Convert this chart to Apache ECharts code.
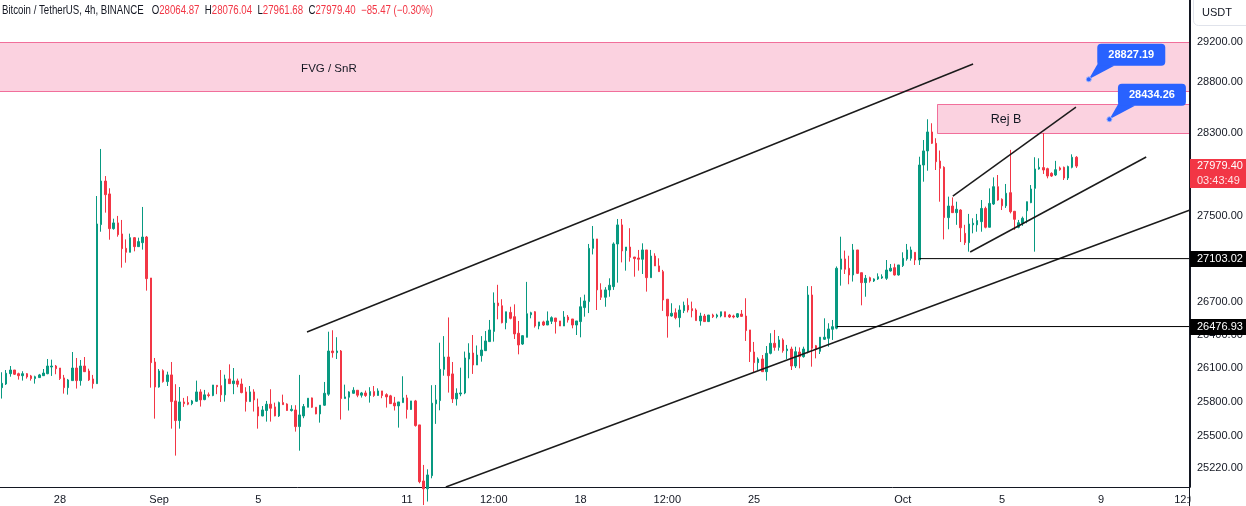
<!DOCTYPE html>
<html><head><meta charset="utf-8">
<script src="https://cdn.jsdelivr.net/npm/echarts@6.0.0/dist/echarts.min.js"></script>
<style>html,body{margin:0;padding:0;background:#fff;}#c{width:1246px;height:506px;}</style>
</head><body><div id="c"></div>
<script>
// ---- data ----
const startTime = Date.UTC(2023, 7, 25, 16); // first 4h slot shown
const slotCount = 288;                       // 4h slots on the time axis (incl. future space)
const opens = [
25926,25959,26051,26084,26051,26033,26051,26031,26007,26016,
26033,26051,26111,26120,26102,26013,25926,25989,26102,25989,
26120,26075,26004,25962,27422,27836,27713,27384,27438,27334,
27199,27162,27299,27215,27252,27305,26923,26156,25932,26078,
25980,26040,25808,25634,25799,25793,25784,25805,25888,25820,
25862,25856,25947,25944,25862,26004,25962,25986,25959,25888,
25802,25888,25755,25675,25723,25779,25755,25675,25793,25781,
25723,25728,25581,25675,25752,25835,25752,25693,25770,25868,
26255,26240,26255,25829,25841,25876,25903,25859,25879,25856,
25891,25856,25897,25864,25853,25790,25764,25793,25835,25732,
25808,25596,25107,25040,25153,25782,25811,26090,26201,26049,
25826,25870,25879,26183,26237,26129,26213,26258,26340,26433,
26692,26667,26512,26606,26567,26416,26318,26379,26585,26612,
26482,26519,26491,26525,26555,26528,26482,26564,26546,26491,
26522,26650,26705,27199,27287,26813,26745,26813,26843,27240,
27419,27178,27211,27118,27109,27097,27184,26926,27127,27035,
26982,26727,26573,26603,26558,26622,26671,26640,26628,26528,
26573,26522,26582,26567,26573,26612,26582,26573,26564,26591,
26573,26446,26246,26150,26183,26069,26234,26325,26288,26355,
26258,26273,26120,26246,26204,26249,26766,26303,26252,26361,
26370,26452,26462,27004,27100,27013,26951,27184,26972,26880,
26926,26895,26914,26923,26920,26988,27019,26951,27038,27100,
27106,27162,27090,27990,28126,28310,28200,28028,27968,27488,
27598,27535,27560,27340,27252,27420,27420,27450,27575,27397,
27617,27782,27662,27600,27725,27548,27397,27435,27553,27630,
27766,27952,27965,27955,27910,27894,27962,27968,27865,27968,
28064.87];
const highs = [
26064,26084,26120,26084,26060,26073,26057,26040,26033,26049,
26093,26183,26177,26129,26102,26040,26004,26246,26192,26174,
26201,26096,26040,27693,28145,27884,27767,27478,27504,27466,
27283,27337,27305,27299,27589,27315,26923,26192,26093,26090,
26069,26156,25957,25932,25835,25850,25817,25989,25912,25906,
25883,25950,25947,26084,26042,26135,26102,26007,26007,25930,
25941,25912,25829,25763,25808,25912,25793,25802,25864,25787,
25770,25770,26040,25781,25832,25838,25752,25770,25977,26430,
26443,26380,26264,25953,25894,25930,25903,25888,25900,25930,
25941,25920,25897,25876,25862,25844,25799,26028,25862,25808,
25817,25596,25246,25208,25948,25950,26330,26390,26560,26156,
25920,26105,26250,26325,26400,26305,26390,26436,26537,26790,
26860,26727,26612,26658,26680,26528,26397,26887,26612,26618,
26519,26530,26615,26570,26555,26528,26618,26582,26546,26528,
26745,26769,27240,27409,27287,26874,26838,26920,27255,27475,
27475,27211,27388,27118,27184,27246,27184,27184,27153,27106,
26998,26727,26690,26643,26671,26705,26736,26705,26643,26603,
26592,26582,26594,26594,26612,26612,26592,26585,26600,26628,
26736,26446,26337,26198,26219,26300,26416,26446,26391,26370,
26310,26294,26294,26288,26294,26848,26848,26310,26380,26552,
26507,26537,27030,27308,27178,27130,27240,27184,26972,26951,
26935,26920,26966,26957,27090,27053,27056,27044,27162,27240,
27215,27162,28070,28232,28434,28395,28249,28130,27978,27687,
27680,27639,27567,27420,27523,27482,27523,27655,27592,27766,
27871,27894,27671,27808,28136,27551,27466,27498,27640,27798,
28065,28055,28300,27964,27920,28030,27975,27975,27984,28093,
28076.04];
const lows = [
25829,25950,26024,26040,25998,25989,26007,25989,25962,26013,
26031,26046,26031,26046,25995,25873,25864,25989,25918,25944,
26066,25986,25918,25962,27355,27535,27280,27374,27308,27019,
27065,27162,27171,27215,27187,26806,25926,25651,25926,25971,
25941,25563,25327,25563,25755,25770,25770,25799,25758,25814,
25840,25850,25868,25799,25802,25962,25868,25930,25876,25714,
25802,25714,25563,25672,25625,25625,25672,25666,25775,25720,
25714,25537,25370,25655,25752,25746,25690,25616,25764,25853,
26195,26183,25643,25829,25723,25873,25841,25838,25844,25793,
25844,25856,25832,25749,25781,25723,25572,25793,25652,25729,
25581,25087,24900,24930,25130,25605,25725,26033,25882,25790,
25767,25850,25868,26010,26049,26129,26159,26255,26340,26340,
26543,26506,26452,26543,26364,26225,26310,26379,26552,26467,
26452,26482,26491,26500,26413,26482,26482,26513,26461,26400,
26379,26567,26600,27142,26628,26720,26658,26750,26813,26880,
27068,26991,27075,26935,26991,26960,26797,26926,27035,26982,
26620,26376,26567,26543,26470,26600,26606,26561,26531,26485,
26519,26519,26555,26552,26561,26564,26555,26552,26555,26564,
26346,26156,26060,26084,26069,25989,26225,26258,26258,26240,
26183,26084,26102,26099,26195,26234,26114,26189,26228,26355,
26294,26355,26452,26852,26960,26865,26890,26960,26671,26750,
26880,26886,26905,26914,26905,26982,26945,26945,27025,27084,
27084,27044,27044,27830,27935,28193,27942,27639,27283,27378,
27532,27420,27258,27230,27168,27340,27355,27355,27387,27397,
27608,27648,27560,27580,27528,27372,27387,27410,27435,27625,
27168,27945,27904,27862,27875,27884,27935,27846,27846,27958,
27961.68];
const closes = [
25965,26055,26084,26046,26033,26051,26022,26007,26024,26040,
26057,26120,26120,26096,26007,25926,25995,26102,25989,26120,
26069,25995,25962,27428,27836,27706,27384,27438,27327,27196,
27162,27299,27215,27262,27305,26917,26150,25932,26075,25980,
26040,25802,25634,25799,25784,25779,25808,25888,25817,25862,
25856,25950,25935,25862,26004,25962,25986,25956,25882,25802,
25888,25817,25675,25728,25779,25743,25675,25793,25775,25723,
25734,25581,25684,25758,25832,25752,25693,25770,25876,26255,
26240,26255,25829,25844,25888,25903,25859,25879,25856,25891,
25856,25897,25856,25844,25784,25764,25799,25835,25732,25808,
25590,25101,25040,25159,25788,25817,26090,26201,26033,25826,
25876,25879,26192,26237,26129,26219,26264,26346,26446,26692,
26667,26512,26612,26552,26410,26310,26394,26594,26603,26482,
26519,26491,26528,26558,26522,26482,26564,26537,26491,26528,
26658,26711,27199,27287,26813,26745,26813,26856,27240,27419,
27175,27211,27115,27103,27097,27184,26926,27127,27035,26982,
26720,26573,26598,26558,26628,26671,26628,26622,26531,26573,
26522,26582,26567,26582,26612,26564,26564,26564,26594,26570,
26440,26249,26150,26183,26069,26234,26325,26288,26355,26258,
26273,26120,26249,26204,26273,26766,26280,26271,26380,26380,
26455,26476,27013,27100,27004,26951,27184,26966,26880,26920,
26895,26914,26935,26935,26997,27013,26951,27044,27106,27184,
27184,27090,27990,28126,28310,28200,28022,27958,27488,27598,
27535,27567,27392,27252,27428,27435,27460,27575,27397,27623,
27782,27655,27600,27719,27544,27472,27440,27482,27639,27760,
27952,27968,27942,27884,27884,27945,27945,27865,27975,28064.87,
27979.40];

const xTickDates = ['08-28 00:00','09-01 00:00','09-05 00:00','09-11 00:00','09-14 12:00','09-18 00:00','09-21 12:00','09-25 00:00','10-01 00:00','10-05 00:00','10-09 00:00','10-12 12:00'];
const xTickTexts = ['28','Sep','5','11','12:00','18','12:00','25','Oct','5','9','12:00'];
const yTickValues = [29200,28800,28300,27500,26700,26400,26100,25800,25500,25220];
const yMin = 25055, yMax = 29625;

// drawings, in [slot index, price]
const trendLines = [
  [[73.8, 26427], [235.0, 28980]],
  [[107.4, 25055], [287.5, 27560]],
  [[230.1, 27693], [259.9, 28554]],
  [[234.3, 27165], [276.9, 28067]]
];
const levelPrices = [27103.02, 26476.93];
const levelStarts = [222, 202];
const zoneNames = ['FVG / SnR', 'Rej B'];
const zoneFrom = [-3, 226.3];
const zoneTop = [29200, 28584];
const zoneBottom = [28712, 28300];
const zoneLabelAt = [[79.1, 28930], [243, 28436]];
const calloutPrices = [28827.19, 28434.26];
const calloutSlots = [263, 268];
const titleText = 'Bitcoin / TetherUS, 4h, BINANCE';
const countdown = '03:43:49';

// ---- build ----
const UP = '#089981', DOWN = '#f23645', INK = '#131722';
const REG = "'Liberation Sans',Arial,sans-serif";
const pad2 = n => String(n).padStart(2, '0');
const categories = [];
for (let i = 0; i < slotCount; i++) {
  const d = new Date(startTime + i * 4 * 3600 * 1000);
  categories.push(pad2(d.getUTCMonth() + 1) + '-' + pad2(d.getUTCDate()) + ' ' + pad2(d.getUTCHours()) + ':00');
}
const tickText = {};
xTickDates.forEach((d, i) => { tickText[d] = xTickTexts[i]; });
const candleData = opens.map((o, i) => [o, closes[i], lows[i], highs[i]]);

const chart = echarts.init(document.getElementById('c'), null, {renderer: 'canvas'});
const series = [
  {
    type: 'custom', xAxisIndex: 1, yAxisIndex: 0, clip: true, silent: true, z: 1,
    encode: {x: [0, 1], y: [2, 3]},
    data: zoneNames.map((n, i) => [zoneFrom[i], slotCount + 2, zoneTop[i], zoneBottom[i]]),
    renderItem: (params, api) => {
      const a = api.coord([api.value(0), api.value(2)]);
      const b = api.coord([api.value(1), api.value(3)]);
      const x0 = Math.round(a[0]) + 0.5, y0 = Math.round(a[1]) + 0.5;
      const x1 = Math.round(b[0]) + 0.5, y1 = Math.round(b[1]) + 0.5;
      return {type: 'rect', shape: {x: x0, y: y0, width: x1 - x0, height: y1 - y0},
        style: {fill: 'rgba(233,30,99,0.2)', stroke: 'rgba(233,30,99,0.6)', lineWidth: 1}};
    }
  },
  {
    type: 'candlestick', xAxisIndex: 0, yAxisIndex: 0, z: 2, silent: true,
    data: candleData, barWidth: 2,
    itemStyle: {color: UP, color0: DOWN, borderColor: UP, borderColor0: DOWN, borderWidth: 1}
  }
];
trendLines.forEach(l => series.push({
  type: 'line', xAxisIndex: 1, yAxisIndex: 0, data: l, symbol: 'none', silent: true, z: 3,
  lineStyle: {color: '#1b1b1b', width: 1.5}
}));
levelPrices.forEach((p, i) => series.push({
  type: 'line', xAxisIndex: 1, yAxisIndex: 0, data: [[levelStarts[i], p], [slotCount, p]], symbol: 'none', silent: true, z: 3,
  lineStyle: {color: '#000', width: 1}
}));

chart.setOption({
  animation: false,
  grid: {left: 0, right: 56, top: 0, bottom: 19, containLabel: false, outerBoundsMode: 'none'},
  xAxis: [
    {type: 'category', data: categories, boundaryGap: true,
      axisLine: {show: true, onZero: false, lineStyle: {color: INK, width: 1}}, axisTick: {show: false}, splitLine: {show: false},
      axisLabel: {interval: (idx, val) => tickText[val] !== undefined, formatter: val => tickText[val] || '',
        color: INK, fontSize: 11, fontFamily: REG, margin: 7}},
    {type: 'value', min: -0.5, max: slotCount - 0.5, show: false}
  ],
  yAxis: {type: 'log', logBase: 10, min: yMin, max: yMax, position: 'right',
    axisLine: {show: true, onZero: false, lineStyle: {color: INK, width: 1}}, axisTick: {show: false}, splitLine: {show: false},
    axisLabel: {customValues: yTickValues, formatter: v => Number(v).toFixed(2), color: INK, fontSize: 11, fontFamily: REG, margin: 7}},
  series: series
});

// ---- overlays positioned through the chart's own scales ----
const X = v => chart.convertToPixel({xAxisIndex: 1}, v);
const Y = v => chart.convertToPixel({yAxisIndex: 0}, v);
const g = [];
const n = closes.length;
// header: one condensed line, fitted to the reference width
const chg = closes[n - 1] - closes[n - 2];
const pct = chg / closes[n - 2] * 100;
const fmtSigned = v => (v < 0 ? '\u2212' : '+') + Math.abs(v).toFixed(2);
const hdr = [
  ['k', titleText + '   '],
  ['k', 'O'], ['v', opens[n - 1].toFixed(2) + '  '],
  ['k', 'H'], ['v', highs[n - 1].toFixed(2) + '  '],
  ['k', 'L'], ['v', lows[n - 1].toFixed(2) + '  '],
  ['k', 'C'], ['v', closes[n - 1].toFixed(2) + '  '],
  ['v', fmtSigned(chg) + ' (' + fmtSigned(pct) + '%)']
];
const HFONT = '12px ' + REG;
const mctx = document.createElement('canvas').getContext('2d');
mctx.font = HFONT;
const hdrWidth = mctx.measureText(hdr.map(h => h[1]).join('')).width;
const hdrScale = (433 - 2) / hdrWidth;
g.push({type: 'text', z: 300, x: 2, y: 11, scaleX: hdrScale,
  style: {x: 0, y: 0, verticalAlign: 'middle', text: hdr.map(h => '{' + h[0] + '|' + h[1] + '}').join(''),
    rich: {k: {fill: INK, fontSize: 12, fontFamily: REG}, v: {fill: DOWN, fontSize: 12, fontFamily: REG}}}});
// USDT box
g.push({type: 'rect', z: 300, shape: {x: 1193.5, y: -6.5, width: 60, height: 32, r: 5}, style: {fill: '#fff', stroke: '#e0e3eb', lineWidth: 1}});
g.push({type: 'text', z: 301, style: {x: 1202, y: 13, text: 'USDT', fill: INK, font: '11px ' + REG, verticalAlign: 'middle'}});
// zone labels
zoneNames.forEach((t, i) => g.push({type: 'text', z: 300, style: {x: X(zoneLabelAt[i][0]), y: Y(zoneLabelAt[i][1]), text: t,
  fill: INK, font: (i === 0 ? '11.5px ' : '12.5px ') + REG, align: 'center', verticalAlign: 'middle'}}));
// level price tags
levelPrices.forEach(p => {
  const y = Y(p);
  g.push({type: 'rect', z: 300, shape: {x: 1190, y: Math.round(y) - 8, width: 56, height: 16}, style: {fill: '#000'}});
  g.push({type: 'text', z: 301, style: {x: 1197, y: y, text: p.toFixed(2), fill: '#fff', font: '11px ' + REG, verticalAlign: 'middle'}});
});
// last price tag
{
  const y = Y(closes[n - 1]);
  g.push({type: 'rect', z: 300, shape: {x: 1190, y: Math.round(y) - 7, width: 56, height: 29}, style: {fill: DOWN}});
  g.push({type: 'text', z: 301, style: {x: 1197, y: y, text: closes[n - 1].toFixed(2), fill: '#fff', font: '11px ' + REG, verticalAlign: 'middle'}});
  g.push({type: 'text', z: 301, style: {x: 1197, y: y + 14.5, text: countdown, fill: '#ffe3e5', font: '11px ' + REG, verticalAlign: 'middle'}});
}
// callouts
calloutPrices.forEach((p, i) => {
  const px = X(calloutSlots[i]), py = Y(p);
  const bx = px + 8.5, by = py - 35.5, bw = 68, bh = 22;
  g.push({type: 'polygon', z: 300, shape: {points: [[px, py], [bx + 1, by + bh - 3], [bx + 17, by + bh]]}, style: {fill: '#2962ff'}});
  g.push({type: 'rect', z: 300, shape: {x: bx, y: by, width: bw, height: bh, r: 4}, style: {fill: '#2962ff'}});
  g.push({type: 'text', z: 301, style: {x: bx + bw / 2, y: by + bh / 2, text: p.toFixed(2), fill: '#fff', font: 'bold 11px ' + REG, align: 'center', verticalAlign: 'middle'}});
  g.push({type: 'circle', z: 301, shape: {cx: px, cy: py, r: 2.5}, style: {fill: '#2962ff', stroke: '#9db4ff', lineWidth: 1}});
});
// price-scale column below the plot
g.push({type: 'rect', z: 300, shape: {x: 1190.5, y: 488, width: 60, height: 20}, style: {fill: '#fff'}});
g.push({type: 'line', z: 301, shape: {x1: 1189.5, y1: 0, x2: 1189.5, y2: 506}, style: {stroke: INK, lineWidth: 1}});
chart.setOption({graphic: {elements: g}});
</script>
</body></html>
